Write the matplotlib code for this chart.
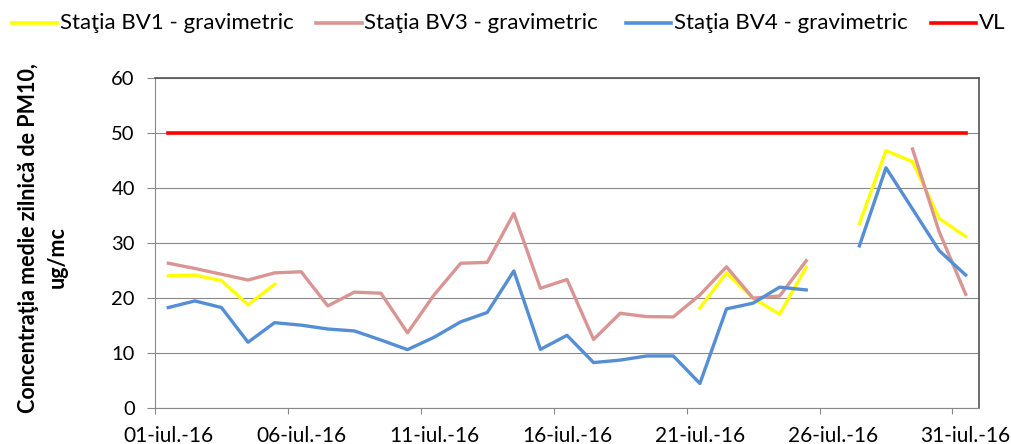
import numpy as np
import matplotlib.pyplot as plt
import matplotlib.ticker as ticker
from matplotlib.lines import Line2D

plt.rcParams['font.family'] = ['Lato', 'DejaVu Sans']

# ------------------------------- DATA -------------------------------------- #
nan = np.nan
days = np.arange(1, 32)          # 1..31 iulie 2016

# Daily mean PM10 (ug/mc), gaps = no measurement
bv1 = [23.95, 24.1, 23.1, 18.7, 22.4,
       nan, nan, nan, nan, nan, nan, nan, nan, nan, nan,
       nan, nan, nan, nan, nan,
       18.1, 24.5, 19.9, 17.0, 25.5,
       nan, 33.4, 46.7, 44.7, 34.4, 31.1]
bv3 = [26.25, 25.3, 24.25, 23.2, 24.5, 24.7, 18.5, 21.0, 20.8, 13.6,
       20.5, 26.25, 26.4, 35.3, 21.7, 23.3, 12.4, 17.15, 16.55, 16.5,
       20.5, 25.6, 19.9, 20.3, 26.7,
       nan, nan, nan, 47.0, 32.0, 20.6]
bv4 = [18.2, 19.4, 18.2, 11.9, 15.45, 15.0, 14.3, 13.95, 12.3, 10.55,
       12.8, 15.6, 17.3, 24.85, 10.6, 13.15, 8.2, 8.65, 9.4, 9.4,
       4.4, 17.95, 19.0, 21.9, 21.4,
       nan, 29.4, 43.6, 36.1, 28.55, 24.1]
vl = [50] * 31

label_days = [1, 6, 11, 16, 21, 26, 31]
tick_labels = ["01-iul.-16", "06-iul.-16", "11-iul.-16", "16-iul.-16",
               "21-iul.-16", "26-iul.-16", "31-iul.-16"]

series_names = ["Staţia BV1 - gravimetric", "Staţia BV3 - gravimetric",
                "Staţia BV4 - gravimetric", "VL"]
# --------------------------------------------------------------------------- #

c_bv1 = '#FFFF00'
c_bv3 = '#D99594'
c_bv4 = '#558ED5'
c_vl = '#FF0000'
grid_c = '#898989'

W, H = 1011, 444
fig = plt.figure(figsize=(W / 100, H / 100), dpi=100)
ax = fig.add_axes([155 / W, 1 - 407.7 / H, (979 - 155) / W, (407.7 - 77.5) / H])

ax.plot(days, vl, color=c_vl, lw=2.6, zorder=3)
ax.plot(days, bv1, color=c_bv1, lw=2.4, zorder=4)
ax.plot(days, bv3, color=c_bv3, lw=2.4, zorder=4)
ax.plot(days, bv4, color=c_bv4, lw=2.4, zorder=5)

# ---- axes ---- #
ax.set_xlim(0.5, 31.5)
ax.set_ylim(0, 60)

ax.yaxis.set_major_locator(ticker.MultipleLocator(10))
ax.grid(axis='y', color=grid_c, lw=0.8)
ax.set_axisbelow(True)
ax.tick_params(axis='y', direction='out', length=5.5, width=0.8, color=grid_c,
               pad=9, labelsize=14.5, labelcolor='#000000')

# category boundaries get the tick marks, labels sit on the days themselves
ax.set_xticks(label_days)
ax.set_xticklabels(tick_labels)
ax.set_xticks(np.arange(0.5, 31.5, 5), minor=True)
ax.tick_params(axis='x', which='major', length=0, pad=13, labelsize=15)
ax.tick_params(axis='x', which='minor', direction='out', length=4.5, width=0.8, color=grid_c)

for s in ['left', 'bottom']:
    ax.spines[s].set_color(grid_c)
    ax.spines[s].set_linewidth(0.8)
for s in ['top', 'right']:
    ax.spines[s].set_color('#555555')
    ax.spines[s].set_linewidth(1.2)

# ---- y label (two bold lines) ---- #
fig.text(29 / W, 1 - 238 / H, "Concentraţia medie zilnică de PM10,", rotation=90,
         ha='center', va='center', fontsize=15.5, fontweight='bold')
fig.text(57.5 / W, 1 - 257 / H, "ug/mc", rotation=90,
         ha='center', va='center', fontsize=15.5, fontweight='bold')

# ---- legend: one row across the top, entries pinned like the original ---- #
leg_x = [11.7, 316, 625.7, 930.7]     # left end of each legend line (px)
leg_len = 45.5
leg_y = 1 - 22.7 / H
for x0, c, name in zip(leg_x, [c_bv1, c_bv3, c_bv4, c_vl], series_names):
    fig.add_artist(Line2D([x0 / W, (x0 + leg_len) / W], [leg_y, leg_y],
                          transform=fig.transFigure, color=c, lw=2.6))
    fig.text((x0 + leg_len + 2.5) / W, leg_y, name, ha='left', va='center', fontsize=16)

fig.savefig("out.png", dpi=100)
